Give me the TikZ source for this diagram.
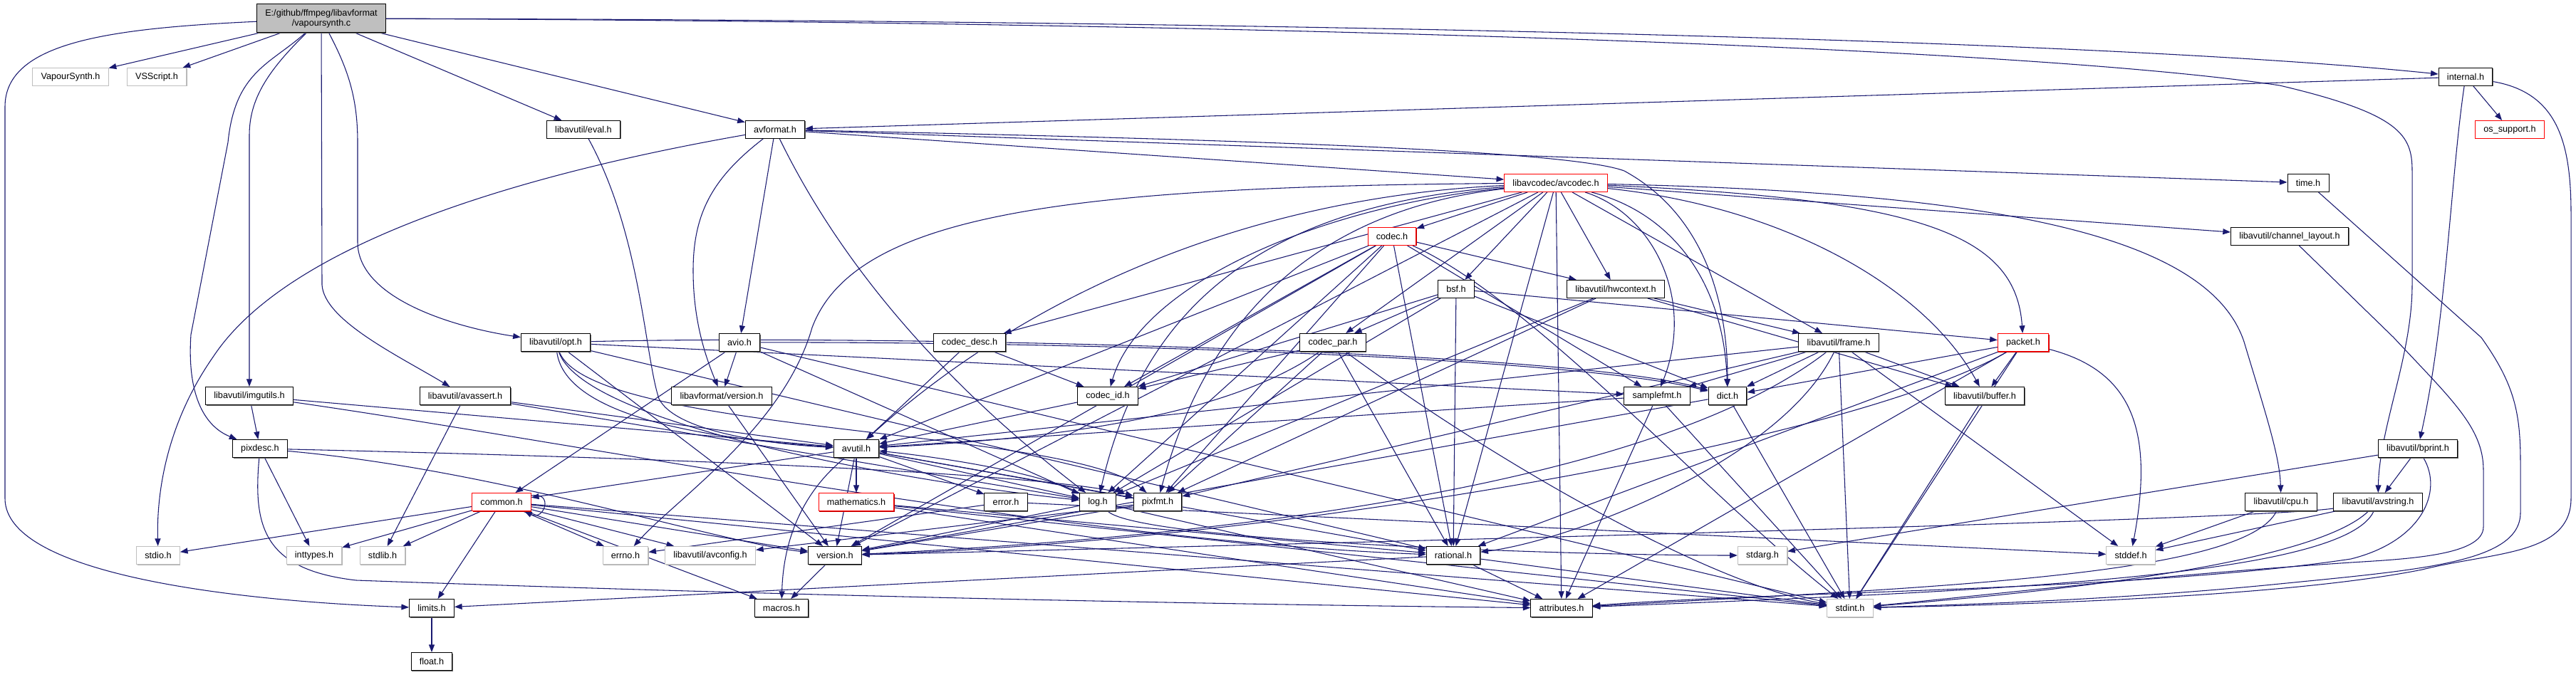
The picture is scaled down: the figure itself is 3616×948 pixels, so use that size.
\documentclass[tikz,border=0pt]{standalone}
\usepackage{fontspec}
\setmainfont{Liberation Sans}
\usepackage{xcolor}
\usepackage{tikz}
\usetikzlibrary{arrows.meta,backgrounds,shadows}
\definecolor{incblue}{RGB}{25,25,112}
\definecolor{sysgray}{RGB}{191,191,191}
\tikzset{
  % --- header boxes ----------------------------------------------------------
  hbox/.style={rectangle,fill=white,line width=0.75pt,
               minimum height=18.75pt,inner xsep=8.8pt,inner ysep=0pt,
               font=\fontsize{9.5}{10.5}\selectfont},
  hdr/.style={hbox,draw=black,drop shadow={shadow xshift=0.75pt,
              shadow yshift=-0.75pt,fill=black!60,opacity=1}},
  hdrcut/.style={hbox,draw=red,drop shadow={shadow xshift=0.75pt,
                 shadow yshift=-0.75pt,fill=red!75!black,opacity=1}},   % graph truncated
  hdrsys/.style={hbox,draw=sysgray,drop shadow={shadow xshift=0.75pt,
                 shadow yshift=-0.75pt,fill=black!30,opacity=1}},       % system header
  hdrroot/.style={hdr,fill=sysgray,align=center,minimum height=30pt},
  % --- include arrows --------------------------------------------------------
  inc/.style={-{Triangle[length=8pt,width=6pt]},incblue,line width=0.8pt},
}

\begin{document}
\begin{tikzpicture}[x=0.75pt, y=-0.75pt]
  \useasboundingbox (0,0) rectangle (3616,948);
  \begin{scope}[on background layer]
    \fill[white] (0,0) rectangle (3616,948);
  \end{scope}

  \node[hdrroot] (vc)         at (451,26)   {E:/github/ffmpeg/libavformat\\/vapoursynth.c};
  \node[hdrsys]  (vsynth)     at (99,108)   {VapourSynth.h};
  \node[hdrsys]  (vsscript)   at (220,108)  {VSScript.h};
  \node[hdr]     (internal)   at (3461,108) {internal.h};
  \node[hdr]     (eval)       at (819,182)  {libavutil/eval.h};
  \node[hdr]     (avformat)   at (1088,182) {avformat.h};
  \node[hdrcut]  (ossupport)  at (3523,182) {os\_support.h};
  \node[hdrcut]  (avcodec)    at (2184,257) {libavcodec/avcodec.h};
  \node[hdr]     (timeh)      at (3240,257) {time.h};
  \node[hdrcut]  (codec)      at (1954,332) {codec.h};
  \node[hdr]     (chlayout)   at (3214,332) {libavutil/channel\_layout.h};
  \node[hdr]     (bsf)        at (2044,406) {bsf.h};
  \node[hdr]     (hwctx)      at (2268,406) {libavutil/hwcontext.h};
  \node[hdr]     (opt)        at (780,481)  {libavutil/opt.h};
  \node[hdr]     (avio)       at (1038,481) {avio.h};
  \node[hdr]     (codecdesc)  at (1361,481) {codec\_desc.h};
  \node[hdr]     (codecpar)   at (1871,481) {codec\_par.h};
  \node[hdr]     (frame)      at (2581,481) {libavutil/frame.h};
  \node[hdrcut]  (packet)     at (2840,481) {packet.h};
  \node[hdr]     (imgutils)   at (350,556)  {libavutil/imgutils.h};
  \node[hdr]     (avassert)   at (653,556)  {libavutil/avassert.h};
  \node[hdr]     (lavfver)    at (1013,556) {libavformat/version.h};
  \node[hdr]     (codecid)    at (1555,556) {codec\_id.h};
  \node[hdr]     (samplefmt)  at (2326,556) {samplefmt.h};
  \node[hdr]     (dict)       at (2425,556) {dict.h};
  \node[hdr]     (buffer)     at (2786,556) {libavutil/buffer.h};
  \node[hdr]     (pixdesc)    at (365,630)  {pixdesc.h};
  \node[hdr]     (avutil)     at (1202,630) {avutil.h};
  \node[hdr]     (bprint)     at (3394,630) {libavutil/bprint.h};
  \node[hdrcut]  (common)     at (704,705)  {common.h};
  \node[hdrcut]  (mathem)     at (1202,705) {mathematics.h};
  \node[hdr]     (error)      at (1412,705) {error.h};
  \node[hdr]     (log)        at (1541,705) {log.h};
  \node[hdr]     (pixfmt)     at (1625,705) {pixfmt.h};
  \node[hdr]     (cpu)        at (3202,705) {libavutil/cpu.h};
  \node[hdr]     (avstring)   at (3338,705) {libavutil/avstring.h};
  \node[hdrsys]  (stdio)      at (222,780)  {stdio.h};
  \node[hdrsys]  (inttypes)   at (441,780)  {inttypes.h};
  \node[hdrsys]  (stdlib)     at (537,780)  {stdlib.h};
  \node[hdrsys]  (errno)      at (878,780)  {errno.h};
  \node[hdrsys]  (avconfig)   at (997,780)  {libavutil/avconfig.h};
  \node[hdr]     (version)    at (1172,780) {version.h};
  \node[hdr]     (rational)   at (2040,780) {rational.h};
  \node[hdrsys]  (stdarg)     at (2474,780) {stdarg.h};
  \node[hdrsys]  (stddef)     at (2991,780) {stddef.h};
  \node[hdr]     (limits)     at (606,854)  {limits.h};
  \node[hdr]     (macros)     at (1097,854) {macros.h};
  \node[hdr]     (attributes) at (2192,854) {attributes.h};
  \node[hdrsys]  (stdint)     at (2597,854) {stdint.h};
  \node[hdr]     (float)      at (606,929)  {float.h};

  \begin{scope}[on background layer]
  % vapoursynth.c
  \draw[inc] (vc) -- (vsynth);
  \draw[inc] (vc) -- (vsscript);
  \draw[inc] (vc) .. controls (150,40) and (7,60) .. (7,150) -- (7,700)
        .. controls (7,810) and (350,845) .. (limits);
  \draw[inc] (vc) .. controls (380,90) and (330,100) .. (320,200) -- (268,470)
        .. controls (262,560) and (290,600) .. (pixdesc);
  \draw[inc] (vc) .. controls (375,100) and (350,140) .. (350,190) -- (imgutils);
  \draw[inc] (vc) -- (452,400) .. controls (455,450) and (560,500) .. (avassert);
  \draw[inc] (vc) .. controls (490,100) and (502,140) .. (502,200) -- (502,340)
        .. controls (502,420) and (640,460) .. (opt);
  \draw[inc] (vc) -- (eval);
  \draw[inc] (vc) -- (avformat);
  \draw[inc] (vc) .. controls (1600,28) and (2900,50) .. (internal);
  \draw[inc] (vc) .. controls (1600,30) and (2800,60) .. (3200,120)
        .. controls (3370,160) and (3386,190) .. (3386,240) -- (3386,400)
        .. controls (3386,500) and (3340,600) .. (avstring);
  % internal.h
  \draw[inc] (internal) -- (avformat);
  \draw[inc] (internal) -- (ossupport);
  \draw[inc] (internal) .. controls (3440,250) and (3434,450) .. (bprint);
  \draw[inc] (internal) .. controls (3590,130) and (3609,200) .. (3609,300) -- (3609,700)
        .. controls (3609,780) and (3500,775) .. (3400,800)
        .. controls (3200,840) and (2800,850) .. (stdint);
  % avformat.h
  \draw[inc] (avformat) .. controls (700,250) and (400,350) .. (300,500)
        .. controls (230,600) and (220,700) .. (stdio);
  \draw[inc] (avformat) .. controls (1000,250) and (973,300) .. (973,380)
        .. controls (973,450) and (990,500) .. (lavfver);
  \draw[inc] (avformat) -- (avio);
  \draw[inc] (avformat) .. controls (1170,350) and (1300,520) .. (log);
  \draw[inc] (avformat) -- (avcodec);
  \draw[inc] (avformat) -- (timeh);
  \draw[inc] (avformat) .. controls (1700,195) and (2200,210) .. (2280,240)
        .. controls (2390,300) and (2425,420) .. (dict);
  \draw[inc] (eval) .. controls (900,330) and (905,500) .. (925,560)
        .. controls (950,610) and (1100,625) .. (avutil);
  \draw[inc] (timeh) -- (3483,474) .. controls (3530,540) and (3538,580) .. (3538,650) -- (3538,720)
        .. controls (3538,790) and (3400,800) .. (3200,820)
        .. controls (3000,840) and (2800,848) .. (stdint);
  % libavcodec/avcodec.h
  \draw[inc] (avcodec) -- (codec);
  \draw[inc] (avcodec) -- (bsf);
  \draw[inc] (avcodec) -- (hwctx);
  \draw[inc] (avcodec) -- (codecdesc);
  \draw[inc] (avcodec) -- (codecpar);
  \draw[inc] (avcodec) .. controls (1850,290) and (1600,400) .. (codecid);
  \draw[inc] (avcodec) -- (frame);
  \draw[inc] (avcodec) .. controls (2700,280) and (2830,330) .. (packet);
  \draw[inc] (avcodec) .. controls (2500,290) and (2700,400) .. (buffer);
  \draw[inc] (avcodec) -- (chlayout);
  \draw[inc] (avcodec) .. controls (2800,270) and (3100,330) .. (3150,480)
        .. controls (3180,580) and (3200,640) .. (cpu);
  \draw[inc] (avcodec) .. controls (2350,300) and (2420,400) .. (dict);
  \draw[inc] (avcodec) .. controls (2320,300) and (2380,420) .. (samplefmt);
  \draw[inc] (avcodec) .. controls (1700,280) and (1400,450) .. (avutil);
  \draw[inc] (avcodec) .. controls (1750,290) and (1600,450) .. (log);
  \draw[inc] (avcodec) .. controls (1800,300) and (1680,500) .. (pixfmt);
  \draw[inc] (avcodec) -- (rational);
  \draw[inc] (avcodec) -- (attributes);
  \draw[inc] (avcodec) .. controls (1500,262) and (1200,300) .. (1140,460)
        .. controls (1100,600) and (950,700) .. (errno);
  \draw[inc] (avcodec) -- (version);
  \draw[inc] (chlayout) -- (3360,474) .. controls (3440,560) and (3486,600) .. (3486,660) -- (3486,740)
        .. controls (3486,780) and (3380,785) .. (3300,790)
        .. controls (3000,810) and (2800,835) .. (stdint);
  % codec.h, bsf.h, hwcontext.h
  \draw[inc] (codec) -- (hwctx);
  \draw[inc] (codec) -- (codecid);
  \draw[inc] (codec) -- (avutil);
  \draw[inc] (codec) -- (log);
  \draw[inc] (codec) -- (pixfmt);
  \draw[inc] (codec) -- (rational);
  \draw[inc] (codec) -- (samplefmt);
  \draw[inc] (codec) .. controls (2150,420) and (2400,700) .. (stdint);
  \draw[inc] (codec) -- (version);
  \draw[inc] (bsf) -- (codecid);
  \draw[inc] (bsf) -- (codecpar);
  \draw[inc] (bsf) -- (packet);
  \draw[inc] (bsf) -- (dict);
  \draw[inc] (bsf) -- (log);
  \draw[inc] (bsf) -- (rational);
  \draw[inc] (hwctx) -- (frame);
  \draw[inc] (hwctx) -- (buffer);
  \draw[inc] (hwctx) -- (log);
  \draw[inc] (hwctx) -- (pixfmt);
  % libavutil/opt.h, avio.h
  \draw[inc] (opt) -- (rational);
  \draw[inc] (opt) .. controls (790,560) and (900,610) .. (avutil);
  \draw[inc] (opt) .. controls (1200,470) and (2200,490) .. (dict);
  \draw[inc] (opt) .. controls (820,600) and (1300,680) .. (log);
  \draw[inc] (opt) .. controls (830,610) and (1500,600) .. (pixfmt);
  \draw[inc] (opt) -- (samplefmt);
  \draw[inc] (opt) -- (version);
  \draw[inc] (avio) -- (common);
  \draw[inc] (avio) .. controls (1500,480) and (2200,500) .. (dict);
  \draw[inc] (avio) -- (log);
  \draw[inc] (avio) -- (lavfver);
  \draw[inc] (avio) -- (stdint);
  % codec_desc.h, codec_par.h
  \draw[inc] (codecdesc) -- (avutil);
  \draw[inc] (codecdesc) -- (codecid);
  \draw[inc] (codecpar) -- (codecid);
  \draw[inc] (codecpar) .. controls (1700,600) and (1400,620) .. (avutil);
  \draw[inc] (codecpar) -- (rational);
  \draw[inc] (codecpar) -- (pixfmt);
  \draw[inc] (codecpar) .. controls (2100,650) and (2400,820) .. (stdint);
  % libavutil/frame.h, packet.h
  \draw[inc] (frame) -- (stddef);
  \draw[inc] (frame) -- (stdint);
  \draw[inc] (frame) -- (avutil);
  \draw[inc] (frame) -- (buffer);
  \draw[inc] (frame) -- (dict);
  \draw[inc] (frame) .. controls (2500,650) and (2200,760) .. (rational);
  \draw[inc] (frame) -- (samplefmt);
  \draw[inc] (frame) -- (pixfmt);
  \draw[inc] (frame) .. controls (2300,700) and (1600,760) .. (version);
  \draw[inc] (packet) .. controls (2990,520) and (3025,600) .. (stddef);
  \draw[inc] (packet) -- (stdint);
  \draw[inc] (packet) -- (attributes);
  \draw[inc] (packet) -- (buffer);
  \draw[inc] (packet) -- (dict);
  \draw[inc] (packet) -- (rational);
  \draw[inc] (packet) .. controls (2600,620) and (1800,760) .. (version);
  % row of imgutils.h
  \draw[inc] (imgutils) -- (pixdesc);
  \draw[inc] (imgutils) -- (avutil);
  \draw[inc] (imgutils) .. controls (800,620) and (1500,760) .. (rational);
  \draw[inc] (avassert) -- (stdlib);
  \draw[inc] (avassert) -- (avutil);
  \draw[inc] (avassert) -- (log);
  \draw[inc] (lavfver) -- (version);
  \draw[inc] (codecid) -- (avutil);
  \draw[inc] (samplefmt) -- (avutil);
  \draw[inc] (samplefmt) -- (attributes);
  \draw[inc] (samplefmt) -- (stdint);
  \draw[inc] (dict) -- (stdint);
  \draw[inc] (dict) -- (version);
  \draw[inc] (buffer) -- (stdint);
  % row of avutil.h
  \draw[inc] (pixdesc) -- (inttypes);
  \draw[inc] (pixdesc) .. controls (355,740) and (370,800) .. (500,815)
        .. controls (1200,840) and (1800,850) .. (attributes);
  \draw[inc] (pixdesc) .. controls (800,640) and (1450,660) .. (pixfmt);
  \draw[inc] (pixdesc) .. controls (700,660) and (1000,760) .. (version);
  \draw[inc] (avutil) -- (common);
  \draw[inc] (avutil) -- (error);
  \draw[inc] (avutil) -- (rational);
  \draw[inc] (avutil) -- (version);
  \draw[inc] (avutil) .. controls (1140,680) and (1100,740) .. (macros);
  \draw[inc] (avutil) -- (mathem);
  \draw[inc] (avutil) -- (log);
  \draw[inc] (avutil) -- (pixfmt);
  \draw[inc] (bprint) -- (stdarg);
  \draw[inc] (bprint) -- (avstring);
  \draw[inc] (bprint) .. controls (3430,690) and (3400,760) .. (3300,785)
        .. controls (3000,830) and (2500,830) .. (attributes);
  % row of common.h
  \draw[inc] (common) -- (stdio);
  \draw[inc] (common) -- (inttypes);
  \draw[inc] (common) -- (stdlib);
  \draw[inc] (common) -- (errno);
  \draw[inc] (common) -- (limits);
  \draw[inc] (common) -- (macros);
  \draw[inc] (common) -- (version);
  \draw[inc] (common) -- (avconfig);
  \draw[inc] (common) -- (attributes);
  \draw[inc] (common) -- (stdint);
  \draw[inc] (common.12) .. controls +(32,-6) and +(28,14) .. (common.-22);
  \draw[inc] (mathem) -- (rational);
  \draw[inc] (mathem) -- (attributes);
  \draw[inc] (mathem) -- (stdint);
  \draw[inc] (error) -- (errno);
  \draw[inc] (error) -- (stddef);
  \draw[inc] (log) .. controls (1450,660) and (1300,640) .. (avutil);
  \draw[inc] (log) .. controls (1600,760) and (2200,780) .. (stdarg);
  \draw[inc] (log) -- (attributes);
  \draw[inc] (log) -- (version);
  \draw[inc] (pixfmt) -- (avconfig);
  \draw[inc] (pixfmt) -- (version);
  \draw[inc] (cpu) -- (stddef);
  \draw[inc] (cpu) .. controls (3150,810) and (2700,825) .. (attributes);
  \draw[inc] (avstring) -- (stddef);
  \draw[inc] (avstring) .. controls (3250,790) and (2900,830) .. (stdint);
  \draw[inc] (avstring) .. controls (3290,810) and (2800,830) .. (attributes);
  \draw[inc] (avstring) .. controls (3200,725) and (2600,745) .. (version);
  % bottom rows
  \draw[inc] (rational) -- (stdint);
  \draw[inc] (rational) -- (limits);
  \draw[inc] (rational) -- (attributes);
  \draw[inc] (version) -- (macros);
  \draw[inc] (limits) -- (float);
  \end{scope}
\end{tikzpicture}
\end{document}
